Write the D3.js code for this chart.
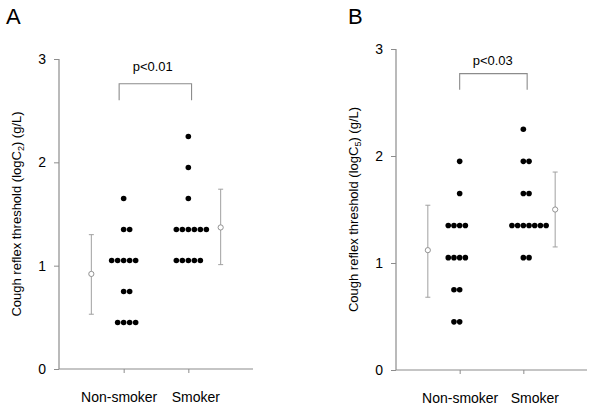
<!DOCTYPE html>
<html><head><meta charset="utf-8">
<script src="https://cdn.jsdelivr.net/npm/d3@7"></script>
<style>body{margin:0;background:#fff}svg{display:block}text{font-family:Arial,"Liberation Sans",sans-serif}</style>
</head><body><svg id="c" width="600" height="405"></svg>
<script>
// ---- data ----
const categories = ["Non-smoker", "Smoker"];
const yTicks = [0, 1, 2, 3];

// Panel A (logC2)
const aNonLevels = [1.65, 1.35, 1.05, 0.75, 0.45];
const aNonCounts = [1, 2, 5, 2, 4];
const aNonFirstCol = [0, 0, -2, 0, -1];
const aSmkLevels = [2.25, 1.95, 1.65, 1.35, 1.05];
const aSmkCounts = [1, 1, 1, 6, 5];
const aSmkFirstCol = [0, 0, 0, -2, -2];
const aMeans = [0.92, 1.37];
const aLow = [0.53, 1.01];
const aHigh = [1.30, 1.74];
const aP = "p<0.01";

// Panel B (logC5)
const bNonLevels = [1.95, 1.65, 1.35, 1.05, 0.75, 0.45];
const bNonCounts = [1, 1, 4, 4, 2, 2];
const bNonFirstCol = [0, 0, -2, -2, -1, -1];
const bSmkLevels = [2.25, 1.95, 1.65, 1.35, 1.05];
const bSmkCounts = [1, 2, 2, 7, 2];
const bSmkFirstCol = [0, 0, 0, -2, 0];
const bMeans = [1.12, 1.50];
const bLow = [0.68, 1.15];
const bHigh = [1.54, 1.85];
const bP = "p<0.03";

const svg = d3.select("#c");
const AX = "#8c8c8c", EB = "#a0a0a0";

function panel(o) {
  const g = svg.append("g");
  const x = d3.scaleLinear().domain([0, 3]).range([o.x0, o.x1]);
  const y = d3.scaleLinear().domain([0, 3]).range([o.y0, o.y1]);

  // letter
  g.append("text").attr("x", o.lx).attr("y", 24).attr("font-size", 22).text(o.letter);

  // axes
  const ya = g.append("g").attr("transform", `translate(${o.x0},0)`)
    .call(d3.axisLeft(y).tickValues(yTicks).tickSize(5).tickPadding(8).tickFormat(d3.format("d")));
  const xa = g.append("g").attr("transform", `translate(0,${o.y0})`)
    .call(d3.axisBottom(x).tickValues([1, 2]).tickSize(4).tickPadding(19).tickFormat((d) => categories[d - 1]));
  [ya, xa].forEach(a => {
    a.select(".domain").attr("stroke", AX).attr("stroke-width", 1.2);
    a.selectAll(".tick line").attr("stroke", AX);
    a.selectAll("text").attr("font-size", 14).attr("fill", "#000").style("font-family", "Arial, 'Liberation Sans', sans-serif");
  });
  xa.selectAll(".tick text").attr("dx", (d, i) => o.labelShift[i]);
  ya.select(".domain").attr("d", `M0,${o.y0}V${o.y1}`);
  xa.select(".domain").attr("d", `M${o.x0},0H${o.x1}`);

  // y label
  const t = g.append("text")
    .attr("transform", `translate(${o.x0 - 38},${(o.y0 + o.y1) / 2}) rotate(-90)`)
    .attr("text-anchor", "middle").attr("font-size", 13);
  t.append("tspan").text("Cough reflex threshold (logC");
  t.append("tspan").attr("font-size", 9).attr("dy", 3).text(o.sub);
  t.append("tspan").attr("dy", -3).text(o.tail);

  // dots
  const groups = [
    [o.nonLevels, o.nonCounts, o.nonFirst, 1],
    [o.smkLevels, o.smkCounts, o.smkFirst, 2]
  ];
  groups.forEach(([lv, ct, fc, xi]) => {
    const pts = [];
    lv.forEach((v, i) => { for (let k = 0; k < ct[i]; k++) pts.push({ v, col: fc[i] + k, xi }); });
    g.selectAll(null).data(pts).enter().append("circle")
      .attr("cx", d => x(d.xi) + d.col * o.step)
      .attr("cy", d => y(d.v)).attr("r", 2.8).attr("fill", "#000");
  });

  // mean ± SD
  const ms = [0.5, 2.5].map((xp, i) => ({ xp, m: o.means[i], lo: o.low[i], hi: o.high[i] }));
  const eb = g.selectAll(null).data(ms).enter().append("g");
  eb.append("line").attr("x1", d => x(d.xp)).attr("x2", d => x(d.xp))
    .attr("y1", d => y(d.lo)).attr("y2", d => y(d.hi)).attr("stroke", EB);
  ["lo", "hi"].forEach(k => eb.append("line")
    .attr("x1", d => x(d.xp) - 2.5).attr("x2", d => x(d.xp) + 2.5)
    .attr("y1", d => y(d[k])).attr("y2", d => y(d[k])).attr("stroke", EB));
  eb.append("circle").attr("cx", d => x(d.xp)).attr("cy", d => y(d.m)).attr("r", 2.6)
    .attr("fill", "#fff").attr("stroke", "#888").attr("stroke-width", 0.9);

  // bracket
  const b = o.br;
  g.append("path").attr("fill", "none").attr("stroke", AX).attr("stroke-width", 1.1)
    .attr("d", `M${x(b[0])},${y(b[3])}V${y(b[2])}H${x(b[1])}V${y(b[3])}`);
  g.append("text").attr("x", x(b[4])).attr("y", y(b[5])).attr("text-anchor", "middle")
    .attr("font-size", 13).text(o.p);
}

panel({ letter: "A", lx: 6, x0: 59, x1: 253, y0: 369, y1: 59, sub: "2", tail: ")  (g/L)", step: 6, labelShift: [-5, 7],
  nonLevels: aNonLevels, nonCounts: aNonCounts, nonFirst: aNonFirstCol,
  smkLevels: aSmkLevels, smkCounts: aSmkCounts, smkFirst: aSmkFirstCol,
  means: aMeans, low: aLow, high: aHigh, p: aP, br: [0.93, 2.05, 2.76, 2.6, 1.45, 2.88] });
panel({ letter: "B", lx: 348, x0: 396, x1: 587, y0: 370, y1: 49, sub: "5", tail: ") (g/L)", step: 5.7, labelShift: [0, 11],
  nonLevels: bNonLevels, nonCounts: bNonCounts, nonFirst: bNonFirstCol,
  smkLevels: bSmkLevels, smkCounts: bSmkCounts, smkFirst: bSmkFirstCol,
  means: bMeans, low: bLow, high: bHigh, p: bP, br: [1.0, 2.06, 2.77, 2.62, 1.52, 2.85] });
</script></body></html>
